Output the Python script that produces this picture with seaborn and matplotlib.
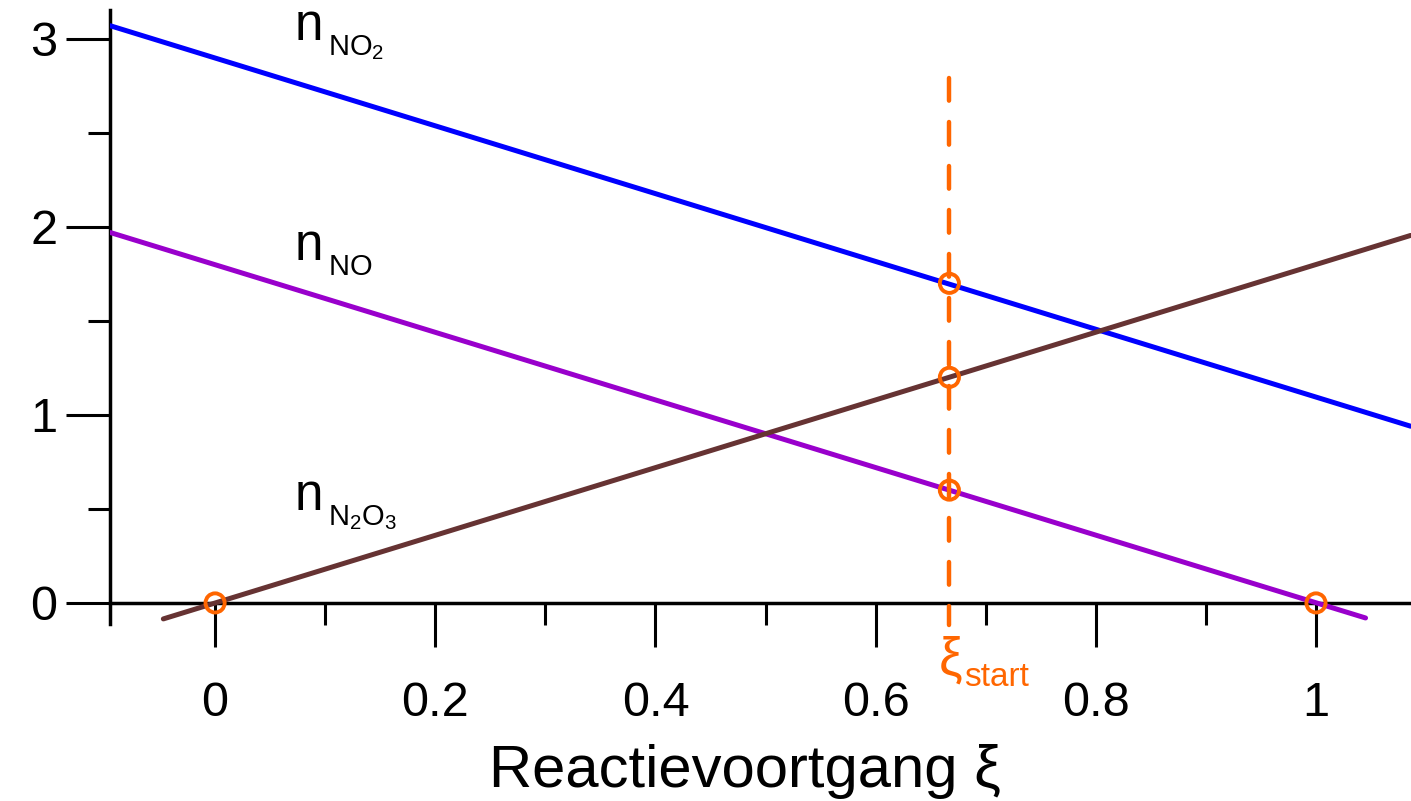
import numpy as np
import pandas as pd
import matplotlib
matplotlib.use("Agg")
import matplotlib.pyplot as plt
import seaborn as sns
from matplotlib.ticker import FixedLocator

# line end points
xi_no2 = [-0.095, 1.086]
n_no2 = [3.07, 0.94]
xi_no = [-0.095, 1.045]
n_no = [1.97, -0.08]
xi_n2o3 = [-0.047, 1.086]
n_n2o3 = [-0.085, 1.955]

# marked points
xi_pts = [0, 1, 0.667, 0.667, 0.667]
n_pts = [0, 0, 1.7, 1.2, 0.6]

xi_start = 0.667
start_span = [2.79, -0.12]

x_major = [0, 0.2, 0.4, 0.6, 0.8, 1]
x_labels = ["0", "0.2", "0.4", "0.6", "0.8", "1"]
x_minor = [0.1, 0.3, 0.5, 0.7, 0.9]
y_major = [0, 1, 2, 3]
y_minor = [0.5, 1.5, 2.5]

blue = "#0000ff"
purple = "#9900cc"
brown = "#663333"
orange = "#ff6600"

sns.set_style("ticks")
plt.rcParams["font.family"] = ["Liberation Sans", "DejaVu Sans"]
plt.rcParams["mathtext.fontset"] = "custom"
plt.rcParams["mathtext.rm"] = "Liberation Sans"
plt.rcParams["text.color"] = "black"
plt.rcParams["axes.labelcolor"] = "black"
plt.rcParams["axes.edgecolor"] = "black"
plt.rcParams["xtick.color"] = "black"
plt.rcParams["ytick.color"] = "black"

fig = plt.figure(figsize=(14.11, 8.01), dpi=100)
ax = fig.add_axes([0.078, 0.221, 0.922, 0.7665])

sns.lineplot(x=xi_no2, y=n_no2, color=blue, lw=3.6, ax=ax, zorder=3)
sns.lineplot(x=xi_no, y=n_no, color=purple, lw=3.6, ax=ax, zorder=3)
sns.lineplot(x=xi_n2o3, y=n_n2o3, color=brown, lw=3.6, ax=ax, zorder=3)

ax.plot([xi_start, xi_start], start_span, color=orange, lw=3.2,
        dashes=(5.1, 4.8), dash_capstyle="round", clip_on=False, zorder=4)

sns.scatterplot(x=xi_pts, y=n_pts, s=190, facecolor="none", edgecolor=orange,
                linewidth=2.8, ax=ax, zorder=5, clip_on=False)

ax.set_xlim(-0.0954, 1.0863)
ax.set_ylim(-0.112, 3.154)

for s in ["top", "right"]:
    ax.spines[s].set_visible(False)
ax.spines["bottom"].set_position(("data", 0))
ax.spines["left"].set_linewidth(2.5)
ax.spines["bottom"].set_linewidth(2.5)

ax.xaxis.set_major_locator(FixedLocator(x_major))
ax.set_xticklabels(x_labels)
ax.xaxis.set_minor_locator(FixedLocator(x_minor))
ax.yaxis.set_major_locator(FixedLocator(y_major))
ax.yaxis.set_minor_locator(FixedLocator(y_minor))

ax.tick_params(axis="x", which="major", length=32, width=2.2, pad=24,
               labelsize=35, direction="out")
ax.tick_params(axis="x", which="minor", length=16, width=2.2, direction="out")
ax.tick_params(axis="y", which="major", length=32, width=2.2, pad=6,
               labelsize=35, direction="out")
ax.tick_params(axis="y", which="minor", length=16, width=2.2, direction="out")

ax.set_xlabel("Reactievoortgang ξ", fontsize=43)
ax.xaxis.set_label_coords(0.488, -0.195)
ax.set_ylabel("")

# species labels: "n" with a smaller subscript
labels = [(0.0727, 2.995, r"$\mathregular{NO_2}$"),
          (0.0727, 1.824, r"$\mathregular{NO}$"),
          (0.0727, 0.495, r"$\mathregular{N_2O_3}$")]
for x, y, sub in labels:
    ax.text(x, y, "n", fontsize=37, ha="left", va="baseline")
    ax.annotate(sub, xy=(x, y), xytext=(24, -11), textcoords="offset points",
                fontsize=21, ha="left", va="baseline")

ax.text(0.6575, -0.38, "ξ", fontsize=38, color=orange, ha="left", va="baseline")
ax.text(0.68, -0.44, "start", fontsize=24, color=orange, ha="left", va="baseline")

fig.savefig("out.png", dpi=100)
